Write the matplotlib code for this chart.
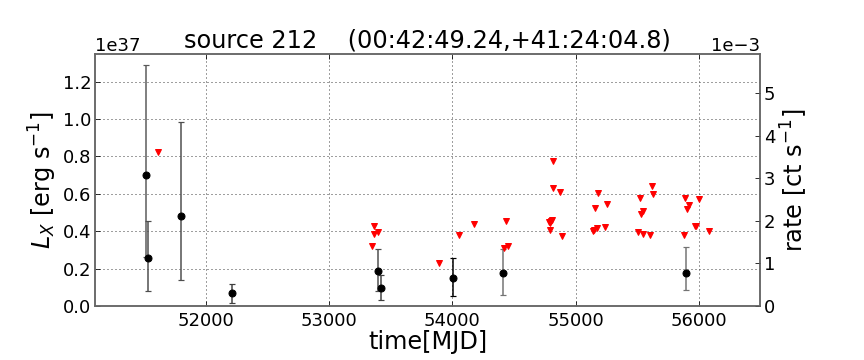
import matplotlib
matplotlib.use("Agg")
import matplotlib.pyplot as plt
from matplotlib.ticker import ScalarFormatter

# Detections: luminosity (units of 1e37 erg/s) with asymmetric error bounds
det_mjd = [51513, 51532, 51794, 52211, 53394, 53421, 54006, 54410, 55897]
det_lx = [0.70, 0.255, 0.483, 0.068, 0.189, 0.098, 0.151, 0.178, 0.176]
det_lo = [0.26, 0.08, 0.139, 0.014, 0.080, 0.030, 0.052, 0.057, 0.087]
det_hi = [1.287, 0.456, 0.982, 0.116, 0.303, 0.164, 0.257, 0.306, 0.316]
det_ecol = ['0.35', '0.3', '0.3', '0.25', '0.3', '0.25', '0.0', '0.45', '0.45']

# Upper limits: count rate (units of 1e-3 ct/s)
ul_mjd = [51610, 53346, 53365, 53368, 53397, 53893, 54053, 54172, 54437, 54421,
          54451, 54786, 54791, 54803, 54811, 54796, 54816, 54816, 54876, 54889,
          55138, 55154, 55173, 55162, 55181, 55254, 55243, 55522, 55551, 55533,
          55511, 55544, 55601, 55620, 55628, 55877, 55889, 55918, 55905, 55999,
          55980, 55972, 56080]
ul_rate = [3.62, 1.41, 1.87, 1.70, 1.74, 1.00, 1.68, 1.92, 1.99, 1.37,
           1.42, 1.98, 1.95, 2.00, 2.02, 1.79, 3.41, 2.77, 2.68, 1.65,
           1.76, 1.79, 1.84, 2.31, 2.65, 2.40, 1.86, 2.53, 2.24, 2.16,
           1.75, 1.70, 1.68, 2.82, 2.63, 1.68, 2.53, 2.37, 2.28, 2.52,
           1.89, 1.88, 1.77]

title = "source 212    (00:42:49.24,+41:24:04.8)"

fig = plt.figure(figsize=(12, 5), dpi=72)
ax = fig.add_axes([0.110, 0.150, 0.770, 0.701])
ax2 = ax.twinx()

for m, y, lo, hi, ec in zip(det_mjd, det_lx, det_lo, det_hi, det_ecol):
    ax.errorbar([m], [y * 1e37], yerr=[[(y - lo) * 1e37], [(hi - y) * 1e37]],
                fmt='o', color='black', ms=7, ecolor=ec, elinewidth=1.5,
                capsize=3, capthick=1.2, zorder=3)

ax2.plot(ul_mjd, [r * 1e-3 for r in ul_rate], 'v', color='red', mec='red',
         ms=6, linestyle='none')

ax.set_xlim(51100, 56500)
ax.set_ylim(0, 1.35e37)
ax2.set_ylim(0, 5.93e-3)
ax.set_yticks([i * 0.2e37 for i in range(7)])
ax2.set_yticks([i * 1e-3 for i in range(6)])
ax.set_xticks([52000, 53000, 54000, 55000, 56000])

fx = ScalarFormatter(useOffset=False)
ax.xaxis.set_major_formatter(fx)
f2 = ScalarFormatter()
f2.set_powerlimits((0, 0))
ax2.yaxis.set_major_formatter(f2)

ax.grid(True, color='0.25', linestyle=(0, (1, 3)), linewidth=1.0)
ax.tick_params(axis='both', direction='in', labelsize=18, length=5)
ax.tick_params(axis='x', top=True, pad=6)
ax.tick_params(axis='y', right=False)
ax2.tick_params(axis='y', direction='in', labelsize=18, length=5)
ax.yaxis.get_offset_text().set_fontsize(18)
ax2.yaxis.get_offset_text().set_fontsize(18)

for a in (ax, ax2):
    for s in a.spines.values():
        s.set_color('0.4')
        s.set_linewidth(1.5)

ax.set_xlabel("time[MJD]", fontsize=24, labelpad=0)
ax.set_ylabel(r"$L_X$ [erg s$^{-1}$]", fontsize=24)
ax2.set_ylabel(r"rate [ct s$^{-1}$]", fontsize=24)
ax.set_title(title, fontsize=24, pad=6)

fig.savefig("out.png", dpi=72)
